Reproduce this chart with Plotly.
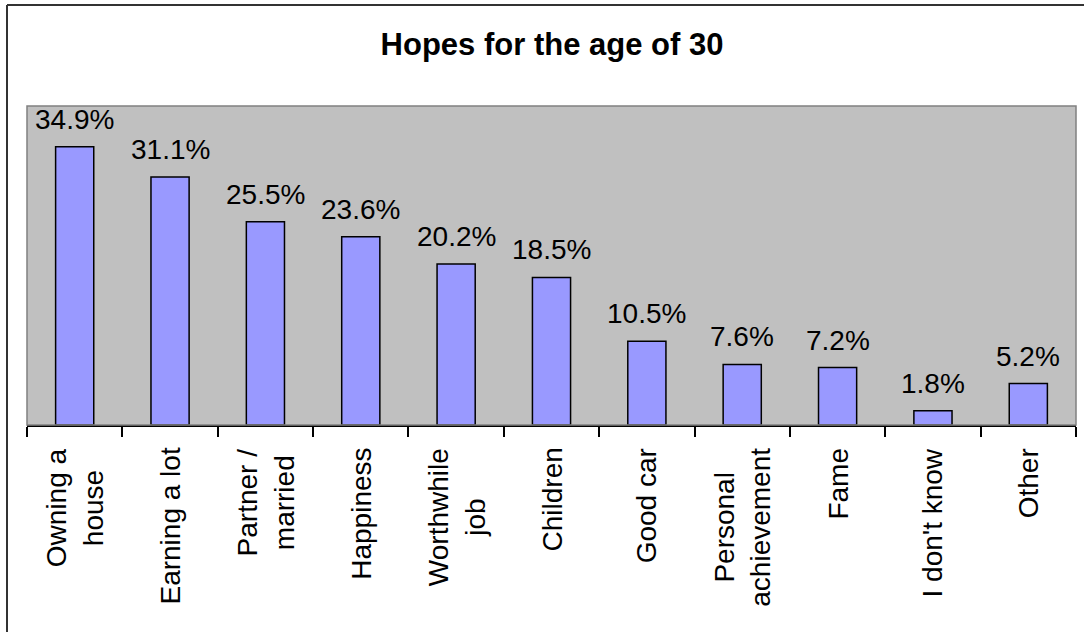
import plotly.graph_objects as go

categories = [
    "Owning a<br>house", "Earning a lot", "Partner /<br>married", "Happiness",
    "Worthwhile<br>job", "Children", "Good car", "Personal<br>achievement",
    "Fame", "I don't know", "Other",
]
values = [34.9, 31.1, 25.5, 23.6, 20.2, 18.5, 10.5, 7.6, 7.2, 1.8, 5.2]

FONT = "Liberation Sans, Arial, sans-serif"
W, H = 1084, 632
ML, MR, MT, MB = 27, 8, 106, 207
pw, ph = W - ML - MR, H - MT - MB


def px_x(p):
    return (p - ML) / pw


def px_y(p):
    return (H - MB - p) / ph


fig = go.Figure()
fig.add_trace(go.Bar(
    x=categories, y=values, width=0.4,
    marker=dict(color="#9999FF", line=dict(color="#000000", width=1.5)),
    hoverinfo="skip",
))

annotations = []
# value labels above each bar
for c, v in zip(categories, values):
    annotations.append(dict(
        x=c, y=v, xref="x", yref="y", text=f"{v}%", showarrow=False,
        yanchor="bottom", yshift=10, font=dict(family=FONT, size=28, color="#000"),
    ))
# rotated category labels under the axis
for c in categories:
    annotations.append(dict(
        x=c, y=px_y(446), xref="x", yref="paper", text=c, showarrow=False,
        textangle=-90, yanchor="top", xanchor="center", align="center",
        font=dict(family=FONT, size=28, color="#000"),
    ))

border = dict(color="#333333", width=2)
shapes = [
    # plot area frame
    dict(type="rect", xref="paper", yref="paper", x0=0, x1=1, y0=0, y1=1,
         line=dict(color="#808080", width=1.5), layer="above"),
    # outer chart border: top and left edges
    dict(type="line", xref="paper", yref="paper",
         x0=px_x(7), x1=px_x(W), y0=px_y(5), y1=px_y(5), line=border),
    dict(type="line", xref="paper", yref="paper",
         x0=px_x(7), x1=px_x(7), y0=px_y(5), y1=px_y(H), line=border),
]

fig.update_layout(
    width=W, height=H,
    margin=dict(l=ML, r=MR, t=MT, b=MB),
    paper_bgcolor="#FFFFFF", plot_bgcolor="#C0C0C0",
    showlegend=False,
    title=dict(text="<b>Hopes for the age of 30</b>", x=px_x(552), xanchor="center",
               xref="paper", yref="container", y=(H - 44) / H, yanchor="middle",
               font=dict(family=FONT, size=31, color="#000")),
    xaxis=dict(type="category", showticklabels=False, showgrid=False, zeroline=False,
               showline=True, linecolor="#000", linewidth=1.5,
               ticks="outside", tickson="boundaries", ticklen=10,
               tickcolor="#000", tickwidth=1.5),
    yaxis=dict(range=[0, 40], visible=False, showgrid=False, zeroline=False),
    annotations=annotations,
    shapes=shapes,
    bargap=0.6,
)

fig.write_html("out.html")
